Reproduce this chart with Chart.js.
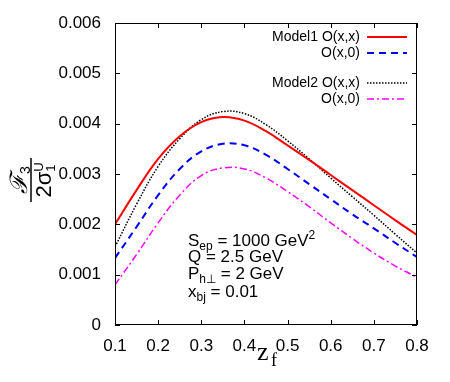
<!DOCTYPE html>
<html>
<head>
<meta charset="utf-8">
<script src="https://cdn.jsdelivr.net/npm/chart.js@4.4.1/dist/chart.umd.min.js"></script>
<style>
  html, body { margin: 0; padding: 0; background: #fff; }
</style>
</head>
<body>
<canvas id="chart" width="450" height="382"></canvas>
<script>
  // values
  const zf = [0.1, 0.15, 0.2, 0.25, 0.3, 0.35, 0.4, 0.45, 0.5, 0.55, 0.6, 0.65, 0.7, 0.75, 0.8];
  const model1Oxx = [0.00200, 0.00268, 0.00330, 0.00375, 0.00403, 0.00413, 0.00406, 0.00385, 0.00357, 0.00328, 0.00298, 0.00268, 0.00238, 0.00208, 0.00179];
  const model1Ox0 = [0.00133, 0.00195, 0.00258, 0.00310, 0.00345, 0.00360, 0.00357, 0.00338, 0.00310, 0.00280, 0.00250, 0.00220, 0.00192, 0.00163, 0.00135];
  const model2Oxx = [0.00155, 0.00240, 0.00315, 0.00370, 0.00408, 0.00424, 0.00420, 0.00398, 0.00366, 0.00330, 0.00292, 0.00255, 0.00218, 0.00180, 0.00143];
  const model2Ox0 = [0.00080, 0.00140, 0.00203, 0.00258, 0.00297, 0.00312, 0.00310, 0.00292, 0.00265, 0.00235, 0.00203, 0.00172, 0.00143, 0.00117, 0.00095];
  const xTicks = [0.1, 0.2, 0.3, 0.4, 0.5, 0.6, 0.7, 0.8];
  const yTicks = [0, 0.001, 0.002, 0.003, 0.004, 0.005, 0.006];

  const pts = ys => zf.map((x, i) => ({ x: x, y: ys[i] }));

  const series = [
    { label: 'Model1 O(x,x)', data: model1Oxx, color: '#ff0000', dash: [], width: 2 },
    { label: 'O(x,0)', data: model1Ox0, color: '#0000ff', dash: [7, 5], width: 2 },
    { label: 'Model2 O(x,x)', data: model2Oxx, color: '#000000', dash: [1.5, 1.5], width: 1.5 },
    { label: 'O(x,0)', data: model2Ox0, color: '#ff00ff', dash: [7, 3, 2, 3], width: 1.5 }
  ];
  const legendRows = [37, 53, 83, 99];

  const SANS = '"Liberation Sans", Arial, sans-serif';
  const SERIF = '"Liberation Serif", "Times New Roman", serif';

  function richText(ctx, x, y, parts) {
    // parts: [text, size, dy]
    parts.forEach(p => {
      ctx.font = p[1] + 'px ' + SANS;
      ctx.fillText(p[0], x, y + (p[2] || 0));
      x += ctx.measureText(p[0]).width;
    });
    return x;
  }

  const decorations = {
    id: 'decorations',
    afterDraw(chart) {
      const ctx = chart.ctx;
      const a = chart.chartArea;
      const xs = chart.scales.x, ys = chart.scales.y;
      ctx.save();
      ctx.strokeStyle = '#000';
      ctx.lineWidth = 1;
      ctx.setLineDash([]);
      ctx.strokeRect(a.left + 0.5, a.top + 0.5, a.right - a.left - 1, a.bottom - a.top - 1);

      // inward ticks on all four sides
      ctx.beginPath();
      xTicks.forEach(v => {
        const px = Math.round(xs.getPixelForValue(v)) + 0.5;
        ctx.moveTo(px, a.bottom); ctx.lineTo(px, a.bottom - 5);
        ctx.moveTo(px, a.top); ctx.lineTo(px, a.top + 5);
      });
      yTicks.forEach(v => {
        const py = Math.round(ys.getPixelForValue(v)) + 0.5;
        ctx.moveTo(a.left, py); ctx.lineTo(a.left + 5, py);
        ctx.moveTo(a.right, py); ctx.lineTo(a.right - 5, py);
      });
      ctx.stroke();

      // legend
      ctx.fillStyle = '#000';
      ctx.textAlign = 'right';
      ctx.textBaseline = 'middle';
      ctx.font = '14px ' + SANS;
      series.forEach((s, i) => {
        const y = legendRows[i];
        ctx.fillText(s.label, 360, y);
        ctx.beginPath();
        ctx.strokeStyle = s.color;
        ctx.lineWidth = s.width;
        ctx.setLineDash(s.dash);
        ctx.moveTo(367, y); ctx.lineTo(407, y);
        ctx.stroke();
      });
      ctx.setLineDash([]);

      // parameter box
      ctx.textAlign = 'left';
      ctx.textBaseline = 'alphabetic';
      ctx.fillStyle = '#000';
      richText(ctx, 188, 246, [['S', 17], ['ep', 12, 4], [' = 1000 GeV', 17], ['2', 12, -7]]);
      richText(ctx, 188, 262, [['Q = 2.5 GeV', 17]]);
      richText(ctx, 188, 279, [['P', 17], ['h\u22a5', 12, 4], [' = 2 GeV', 17]]);
      richText(ctx, 188, 297, [['x', 17], ['bj', 12, 4], [' = 0.01', 17]]);

      // x axis title
      ctx.font = '26px ' + SERIF;
      ctx.fillText('z', 257, 360);
      ctx.font = '18px ' + SERIF;
      ctx.fillText('f', 271, 366);

      // y axis title: F3 / (2 sigma_1^U)
      ctx.save();
      ctx.translate(31, 180);
      ctx.rotate(-Math.PI / 2);
      ctx.textAlign = 'left';
      ctx.font = 'italic 24px "DejaVu Serif", serif';
      const fw = ctx.measureText('\u2131').width;
      ctx.font = '14px ' + SANS;
      const tw = ctx.measureText('3').width;
      const nx = -(fw + tw) / 2;
      ctx.font = 'italic 24px "DejaVu Serif", serif';
      ctx.fillText('\u2131', nx, -4);
      ctx.font = '14px ' + SANS;
      ctx.fillText('3', nx + fw, -1);
      ctx.lineWidth = 1.5;
      ctx.strokeStyle = '#000';
      ctx.beginPath();
      ctx.moveTo(-22, 0); ctx.lineTo(22, 0);
      ctx.stroke();
      ctx.font = '22px ' + SANS;
      const dw = ctx.measureText('2\u03c3').width;
      ctx.font = '13px ' + SANS;
      const sw = ctx.measureText('U').width;
      const dx = -(dw + sw) / 2;
      ctx.font = '22px ' + SANS;
      ctx.fillText('2\u03c3', dx, 20);
      ctx.font = '13px ' + SANS;
      ctx.fillText('U', dx + dw, 12);
      ctx.fillText('1', dx + dw, 24);
      ctx.restore();

      ctx.restore();
    }
  };

  new Chart(document.getElementById('chart'), {
    type: 'line',
    data: {
      datasets: series.map(s => ({
        label: s.label,
        data: pts(s.data),
        borderColor: s.color,
        borderWidth: s.width,
        borderDash: s.dash,
        pointRadius: 0,
        fill: false,
        tension: 0.4
      }))
    },
    options: {
      responsive: false,
      animation: false,
      devicePixelRatio: 1,
      layout: { padding: { left: 0, top: 23, right: 33, bottom: 0 } },
      plugins: { legend: { display: false }, tooltip: { enabled: false } },
      scales: {
        x: {
          type: 'linear',
          min: 0.1,
          max: 0.8,
          grid: { display: false },
          border: { display: false },
          afterBuildTicks: s => { s.ticks = xTicks.map(v => ({ value: v })); },
          afterFit: s => { s.height = 57; },
          ticks: {
            color: '#000',
            padding: 3,
            maxRotation: 0,
            font: { family: SANS, size: 17 },
            callback: v => v.toFixed(1)
          }
        },
        y: {
          min: 0,
          max: 0.006,
          grid: { display: false },
          border: { display: false },
          afterBuildTicks: s => { s.ticks = yTicks.map(v => ({ value: v })); },
          afterFit: s => { s.width = 115; },
          ticks: {
            color: '#000',
            padding: 6,
            font: { family: SANS, size: 17 },
            callback: v => v === 0 ? '0' : v.toFixed(3)
          }
        }
      }
    },
    plugins: [decorations]
  });
</script>
</body>
</html>
